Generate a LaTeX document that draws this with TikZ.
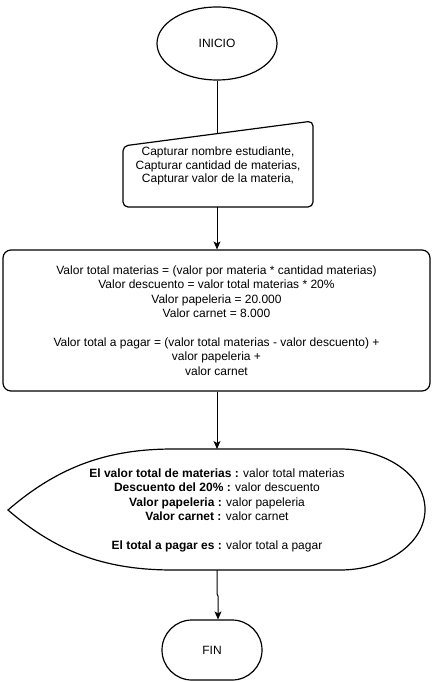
\documentclass[tikz,border=0pt]{standalone}
\usepackage{fontspec}
\setmainfont{Liberation Sans}
\usetikzlibrary{arrows.meta,shapes.geometric}
\begin{document}
\begin{tikzpicture}[x=1bp,y=-1bp,
  shp/.style={draw=black,line width=1.2bp,fill=white},
  txt/.style={align=center,inner sep=0pt,font=\fontsize{12bp}{14.4bp}\selectfont},
  conn/.style={draw=black,line width=1bp},
  arr/.style={conn,-{Stealth[length=8bp,width=7bp,inset=2bp]}}]
\useasboundingbox (0,0) rectangle (432,682);
% INICIO
\node[shp,ellipse,minimum width=120bp,minimum height=73bp,inner sep=0pt,font=\fontsize{12bp}{14.4bp}\selectfont] (ini) at (217,43.5) {INICIO};
% manual input
\draw[shp,rounded corners=5bp] (123,146) -- (313,121) -- (313,207) -- (123,207) -- cycle;
\coordinate (mitop) at (217,133.6);
\coordinate (mibot) at (217,207);
\node[txt,text depth=0pt] (mitext) at (218,165) {Capturar nombre estudiante,\\[-1bp]Capturar cantidad de materias,\\[-1bp]Capturar valor de la materia,};
% process
\node[shp,rounded corners=8bp,minimum width=427bp,minimum height=141bp] (proc) at (216.5,320.5) {};
\node[txt] (proctext) at (proc.center) {Valor total materias = (valor por materia * cantidad materias)\\
Valor descuento = valor total materias * 20\%\\
Valor papeleria = 20.000\\
Valor carnet = 8.000\\[14.4bp]
Valor total a pagar = (valor total materias - valor descuento) +\\
valor papeleria +\\
valor carnet};
% display
\draw[shp] (173,449) -- (340,449) arc[start angle=-90,end angle=90,x radius=85,y radius=60.5]
  -- (173,570) .. controls (110,570) and (60,555) .. (8,510) .. controls (60,465) and (110,449) .. (173,449) -- cycle;
\coordinate (dtop) at (217,449);
\coordinate (dbot) at (217,570);
\node[txt] (disptext) at (217,510.5) {\textbf{El valor total de materias :} valor total materias\\
\textbf{Descuento del 20\% :} valor descuento\\
\textbf{Valor papeleria :} valor papeleria\\
\textbf{Valor carnet :} valor carnet\\[14.4bp]
\textbf{El total a pagar es :} valor total a pagar};
% FIN
\node[shp,rounded corners=30bp,minimum width=100bp,minimum height=60bp,font=\fontsize{12bp}{14.4bp}\selectfont] (fin) at (212,650) {FIN};
% connectors
\draw[conn] (ini.south) -- (mitop);
\draw[arr] (mibot) -- (proc.north -| mibot);
\draw[arr] (proc.south -| dtop) -- (dtop);
\coordinate (j1) at (217,594);
\coordinate (j2) at (218,596);
\draw[arr] (dbot) -- (j1) -- (j2) -- (j2 |- fin.north);
\end{tikzpicture}
\end{document}
